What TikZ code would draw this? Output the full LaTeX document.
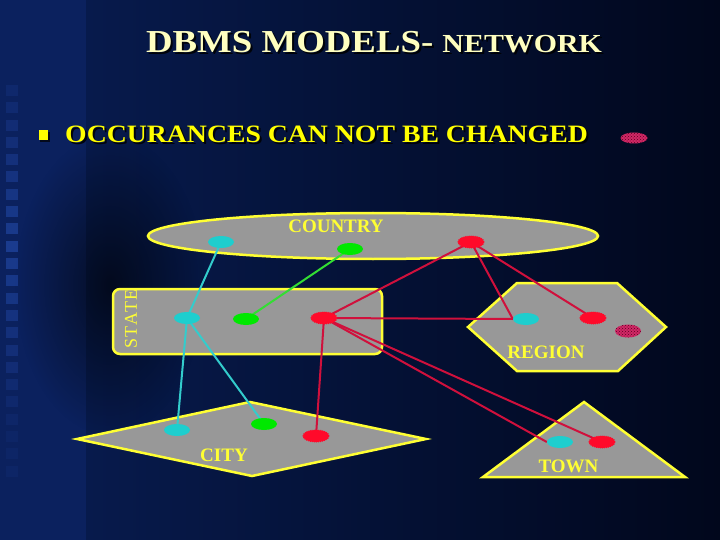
\documentclass[tikz,border=0pt]{standalone}
\usepackage{fontspec}
\setmainfont{Liberation Serif}
\usetikzlibrary{shapes.geometric,patterns,fadings}
\definecolor{stripbg}{HTML}{0B215E}
\definecolor{sqcol}{HTML}{1C3E94}
\definecolor{mainL}{HTML}{071A4C}
\definecolor{mainM}{HTML}{0B2163}
\definecolor{mainR}{HTML}{01071C}
\definecolor{shapefill}{HTML}{989898}
\definecolor{shapeedge}{HTML}{FFFF33}
\definecolor{titlecol}{HTML}{FFFFC0}
\definecolor{bulletcol}{HTML}{FFFF00}
\definecolor{labelcol}{HTML}{FFFF33}
\definecolor{cyanD}{HTML}{1ECECE}
\definecolor{cyanL}{HTML}{33CCCC}
\definecolor{greenD}{HTML}{00E800}
\definecolor{greenL}{HTML}{33DD33}
\definecolor{redD}{HTML}{FF0A2A}
\definecolor{redL}{HTML}{D0103C}
\definecolor{hatchbg}{HTML}{D02866}
\definecolor{hatchfg}{HTML}{5A0020}
\tikzfading[name=darkblob, inner color=transparent!0, outer color=transparent!100]
\pgfdeclarelayer{bgl}
\pgfdeclarelayer{shp}
\pgfdeclarelayer{ln}
\pgfsetlayers{bgl,shp,ln,main}
\begin{document}
\begin{tikzpicture}[x=1pt,y=-1pt,
  area/.style={fill=shapefill, draw=shapeedge, line width=2.5pt, line join=miter},
  dot/.style={ellipse, minimum width=26pt, minimum height=12pt, inner sep=0pt},
  cdot/.style={dot, fill=cyanD},
  gdot/.style={dot, fill=greenD},
  rdot/.style={dot, fill=redD, draw=redD, line width=1pt, dash pattern=on 1pt off 1pt},
  hatchdot/.style={dot, fill=hatchbg, postaction={pattern=crosshatch dots, pattern color=hatchfg}},
  cline/.style={draw=cyanL, line width=2pt},
  gline/.style={draw=greenL, line width=2pt},
  rline/.style={draw=redL, line width=2pt},
  lbl/.style={text=labelcol, font=\bfseries\fontsize{19}{22}\selectfont, inner sep=0pt}
]
\useasboundingbox (0,0) rectangle (720,540);
\begin{pgfonlayer}{bgl}
  \fill[stripbg] (0,0) rectangle (86,540);
  \shade[left color=mainL, middle color=mainM, right color=mainR] (86,0) rectangle (720,540);
  \fill[black, opacity=0.6, path fading=darkblob] (110,285) ellipse (95 and 150);
  \foreach \i in {0,...,22}{
    \pgfmathsetmacro\op{max(0.15,0.9-abs(\i-9)*0.07)}
    \fill[sqcol, opacity=\op] (6,{85+17.3*\i}) rectangle (17.5,{96+17.3*\i});
  }
\end{pgfonlayer}

% title
\node[anchor=base, text=black, opacity=0.85, inner sep=0pt] (titleshadow) at (376,55)
  {\scalebox{1.15}[1]{\bfseries\fontsize{32}{36}\selectfont DBMS MODELS- \fontsize{26}{30}\selectfont NETWORK}};
\node[anchor=base, text=titlecol, inner sep=0pt] (title) at (374,53)
  {\scalebox{1.15}[1]{\bfseries\fontsize{32}{36}\selectfont DBMS MODELS- \fontsize{26}{30}\selectfont NETWORK}};

% bullet
\fill[black, opacity=0.7] (40,132) rectangle (50,142);
\fill[bulletcol] (38.5,130.5) rectangle (48,140);
\node[anchor=base west, text=black, opacity=0.85, inner sep=0pt] (bshadow) at (67,145)
  {\scalebox{1.11}[1]{\bfseries\fontsize{25}{30}\selectfont OCCURANCES CAN NOT BE CHANGED}};
\node[anchor=base west, text=bulletcol, inner sep=0pt] (btext) at (65,143)
  {\scalebox{1.11}[1]{\bfseries\fontsize{25}{30}\selectfont OCCURANCES CAN NOT BE CHANGED}};
\node[hatchdot, minimum width=27pt, minimum height=11pt] (h1) at (634,138) {};

% shapes
\begin{pgfonlayer}{shp}
  \draw[area] (373,236) ellipse (225 and 23);
  \draw[area, rounded corners=7pt] (113,289) rectangle (382,354);
  \draw[area] (468,327) -- (517,283) -- (617,283) -- (666,327) -- (618,371) -- (517,371) -- cycle;
  \draw[area] (77,439) -- (250,402) -- (426,439) -- (252,476) -- cycle;
  \draw[area] (483,477) -- (584,402) -- (685,477) -- cycle;
\end{pgfonlayer}

% labels
\node[lbl] (country) at (336,226.5) {COUNTRY};
\node[lbl, rotate=90, font=\fontsize{18}{20}\selectfont\addfontfeature{LetterSpace=10}] (state) at (131,319) {STATE};
\node[lbl] (region) at (546,352.5) {REGION};
\node[lbl] (city) at (224,455) {CITY};
\node[lbl] (town) at (568.5,466.5) {TOWN};

% dots
\node[cdot] (cc) at (221,242) {};
\node[gdot] (cg) at (350,249) {};
\node[rdot] (cr) at (471,242) {};
\node[cdot] (sc) at (187,318) {};
\node[gdot] (sg) at (246,319) {};
\node[rdot] (sr) at (324,318) {};
\node[cdot] (rc) at (526,319) {};
\node[rdot] (rr) at (593,318) {};
\node[hatchdot, minimum height=13pt] (h2) at (628,331) {};
\node[cdot] (cic) at (177,430) {};
\node[gdot] (cig) at (264,424) {};
\node[rdot] (cir) at (316,436) {};
\node[cdot] (tc) at (560,442) {};
\node[rdot] (tr) at (602,442) {};

% connectors
\begin{pgfonlayer}{ln}
  \draw[cline] (cc.center) -- (sc.center);
  \draw[cline] (sc.center) -- (cic.center);
  \draw[cline] (sc.center) -- (cig.center);
  \draw[gline] (cg.center) -- (sg.center);
  \draw[rline] (cr.center) -- (sr.center);
  \draw[rline] (cr.center) -- (rc.west);
  \draw[rline] (cr.center) -- (rr.center);
  \draw[rline] (sr.center) -- (rc.west);
  \draw[rline] (sr.center) -- (cir.center);
  \draw[rline] (sr.center) -- (tc.west);
  \draw[rline] (sr.center) -- (tr.center);
\end{pgfonlayer}
\end{tikzpicture}
\end{document}
